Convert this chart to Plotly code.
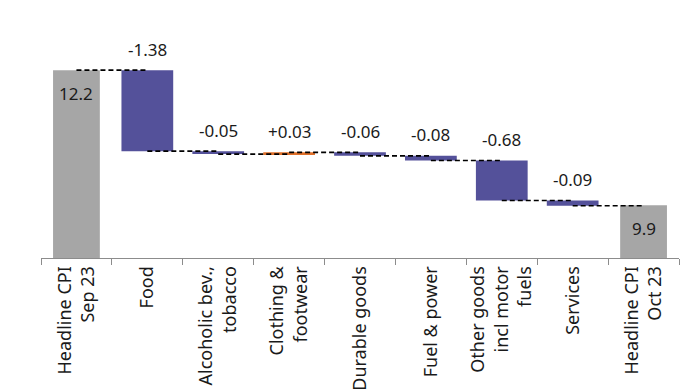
import plotly.graph_objects as go

categories = ["Headline CPI<br>Sep 23", "Food", "Alcoholic bev.,<br>tobacco", "Clothing &<br>footwear",
              "Durable goods", "Fuel & power", "Other goods<br>incl motor<br>fuels", "Services",
              "Headline CPI<br>Oct 23"]
start_total = 12.2
changes = [-1.38, -0.05, 0.03, -0.06, -0.08, -0.68, -0.09]
change_labels = ["-1.38", "-0.05", "+0.03", "-0.06", "-0.08", "-0.68", "-0.09"]
end_total = 9.9

GRAY = "#A6A6A6"
PURPLE = "#54519A"
ORANGE = "#E0702A"
AXIS_MIN = 9.0

bases, lengths, colors, widths = [], [], [], []
bases.append(AXIS_MIN); lengths.append(start_total - AXIS_MIN); colors.append(GRAY); widths.append(0.66)
level = start_total
levels = [level]
for c in changes:
    bases.append(level); lengths.append(c); colors.append(ORANGE if c > 0 else PURPLE); widths.append(0.73)
    level = round(level + c, 4)
    levels.append(level)
bases.append(AXIS_MIN); lengths.append(end_total - AXIS_MIN); colors.append(GRAY); widths.append(0.66)

fig = go.Figure()
fig.add_trace(go.Bar(x=categories, y=lengths, base=bases, marker=dict(color=colors, line=dict(width=0)),
                     width=widths, hoverinfo="skip", showlegend=False))

cx, cy = [], []
for i, lv in enumerate(levels):
    cx += [categories[i], categories[i + 1], None]
    cy += [lv, lv, None]
fig.add_trace(go.Scatter(x=cx, y=cy, mode="lines", line=dict(color="black", width=1.6, dash="5px,3px"),
                         hoverinfo="skip", showlegend=False))

font_family = "Noto Sans"
FS = 17
anns = []
for i, (c, lab) in enumerate(zip(changes, change_labels)):
    top = max(levels[i], levels[i + 1])
    anns.append(dict(x=categories[i + 1], y=top, text=lab, showarrow=False, yanchor="middle", yshift=21,
                     font=dict(size=FS, color="#1a1a1a", family=font_family)))
anns.append(dict(x=categories[0], y=start_total, text=f"{start_total:.1f}", showarrow=False, yanchor="middle",
                 yshift=-23, font=dict(size=FS, color="#1a1a1a", family=font_family)))
anns.append(dict(x=categories[-1], y=end_total, text=f"{end_total:.1f}", showarrow=False, yanchor="middle",
                 yshift=-23, font=dict(size=FS, color="#1a1a1a", family=font_family)))

fig.update_layout(
    width=695, height=390, margin=dict(l=33, r=24, t=2, b=140, autoexpand=False),
    paper_bgcolor="white", plot_bgcolor="white", annotations=anns,
    font=dict(family=font_family, size=FS, color="#1a1a1a"),
)
fig.update_xaxes(type="category", tickangle=-90, showline=True, linecolor="#8c8c8c", linewidth=1,
                 ticks="outside", tickson="boundaries", ticklen=6, tickcolor="#8c8c8c",
                 automargin=False, showgrid=False, tickfont=dict(size=18, color="#1a1a1a"))
fig.update_yaxes(range=[AXIS_MIN, 13.225], visible=False, showgrid=False, zeroline=False)

fig.write_html("out.html")
